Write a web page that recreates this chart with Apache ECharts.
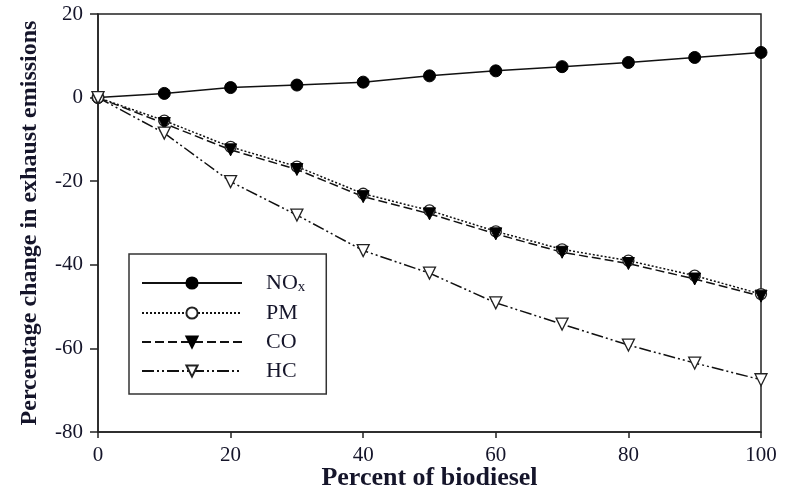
<!DOCTYPE html>
<html>
<head>
<meta charset="utf-8">
<script src="https://cdn.jsdelivr.net/npm/echarts@6/dist/echarts.min.js"></script>
<style>html,body{margin:0;padding:0;background:#fff}#c{width:786px;height:488px}</style>
</head>
<body>
<div id="c"></div>
<script>
const percentBiodiesel = [0, 10, 20, 30, 40, 50, 60, 70, 80, 90, 100];
const noxValues = [0, 1.0, 2.4, 3.0, 3.7, 5.2, 6.4, 7.4, 8.4, 9.6, 10.8];
const pmValues  = [0, -5.5, -11.8, -16.5, -23.0, -27.0, -32.0, -36.3, -39.0, -42.6, -47.0];
const coValues  = [0, -6.2, -12.5, -17.2, -23.7, -27.8, -32.6, -37.0, -39.7, -43.4, -47.5];
const hcValues  = [0, -8.5, -20.1, -28.1, -36.6, -42.0, -49.1, -54.2, -59.2, -63.5, -67.5];
const yTicks = [-80, -60, -40, -20, 0, 20];
const xTicks = [0, 20, 40, 60, 80, 100];
const seriesNames = ['NOx', 'PM', 'CO', 'HC'];

const pairs = v => percentBiodiesel.map((x, i) => [x, v[i]]);
const FONT = "'Liberation Serif','Times New Roman',serif";
const TXT = '#15152a';

const chart = echarts.init(document.getElementById('c'), null, {renderer: 'canvas'});
chart.setOption({
  animation: false,
  backgroundColor: '#fff',
  grid: {left: 98, right: 25, top: 14, bottom: 56, show: true, borderColor: '#222', borderWidth: 1.5,
         containLabel: false, outerBoundsMode: 'none'},
  xAxis: {
    type: 'value', min: xTicks[0], max: xTicks[xTicks.length - 1], interval: 20,
    name: 'Percent of biodiesel', nameLocation: 'middle', nameGap: 33, nameMoveOverlap: false,
    nameTextStyle: {fontFamily: FONT, fontWeight: 'bold', fontSize: 26, color: TXT},
    axisLine: {onZero: false, lineStyle: {color: '#222', width: 1.5}},
    axisTick: {show: true, inside: false, length: 6, lineStyle: {color: '#222', width: 1.5}},
    axisLabel: {fontFamily: FONT, fontSize: 21, color: TXT, margin: 13},
    splitLine: {show: false}
  },
  yAxis: {
    type: 'value', min: yTicks[0], max: yTicks[yTicks.length - 1], interval: 20,
    name: 'Percentage change in exhaust emissions', nameLocation: 'middle', nameGap: 56,
    nameTextStyle: {fontFamily: FONT, fontWeight: 'bold', fontSize: 24, color: TXT},
    axisLine: {onZero: false, lineStyle: {color: '#222', width: 1.5}},
    axisTick: {show: true, inside: false, length: 8, lineStyle: {color: '#222', width: 1.5}},
    axisLabel: {fontFamily: FONT, fontSize: 21, color: TXT, margin: 15},
    splitLine: {show: false}
  },
  legend: {
    left: 129, top: 254, orient: 'vertical',
    data: seriesNames,
    itemWidth: 100, itemHeight: 14, itemGap: 7,
    borderColor: '#333', borderWidth: 1.5, padding: [17, 21, 12, 12],
    formatter: n => n === 'NOx' ? '{n|NO}{s|x}' : '{n|' + n + '}',
    textStyle: {
      fontFamily: FONT, fontSize: 22, color: TXT, padding: [0, 0, 0, 19],
      rich: {
        n: {fontFamily: FONT, fontSize: 22, color: TXT, lineHeight: 22},
        s: {fontFamily: FONT, fontSize: 15, color: TXT, padding: [9, 0, 0, 0], lineHeight: 13}
      }
    }
  },
  series: [
    {name: 'NOx', type: 'line', data: pairs(noxValues), symbol: 'circle', symbolSize: 12,
     lineStyle: {color: '#111', width: 1.5, type: 'solid'},
     itemStyle: {color: '#000', borderColor: '#000', borderWidth: 1}},
    {name: 'PM', type: 'line', data: pairs(pmValues), symbol: 'circle', symbolSize: 11,
     lineStyle: {color: '#111', width: 1.5, type: [2, 2]},
     itemStyle: {color: '#fff', borderColor: '#222', borderWidth: 1.3}},
    {name: 'CO', type: 'line', data: pairs(coValues), symbol: 'triangle', symbolRotate: 180, symbolSize: 12,
     lineStyle: {color: '#111', width: 1.5, type: [9, 4]},
     itemStyle: {color: '#000', borderColor: '#000', borderWidth: 1}},
    {name: 'HC', type: 'line', data: pairs(hcValues), symbol: 'triangle', symbolRotate: 180, symbolSize: 12,
     lineStyle: {color: '#111', width: 1.5, type: [12, 3, 2, 3, 2, 3]},
     itemStyle: {color: '#fff', borderColor: '#222', borderWidth: 1.3}}
  ]
});
</script>
</body>
</html>
